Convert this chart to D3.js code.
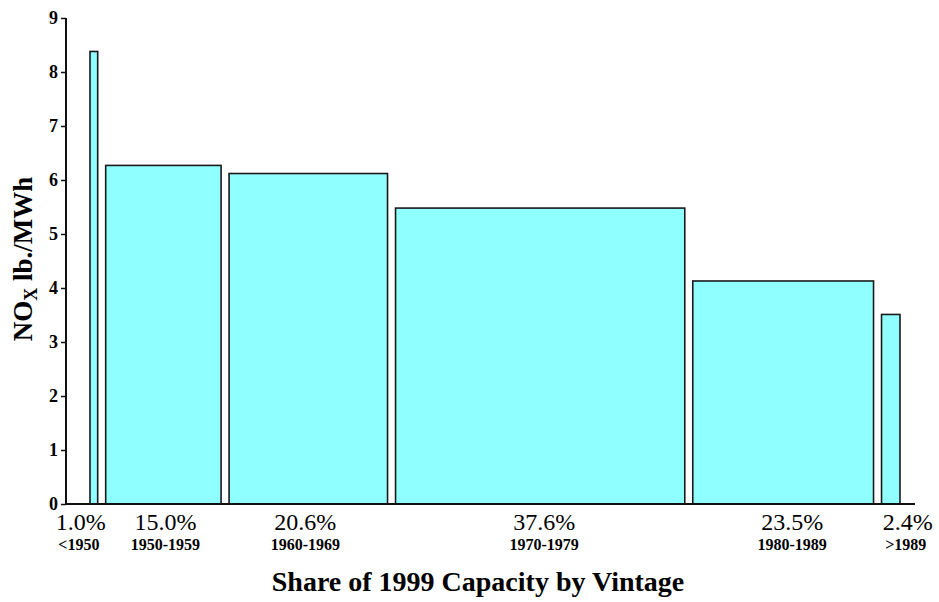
<!DOCTYPE html>
<html><head><meta charset="utf-8">
<script src="https://cdn.jsdelivr.net/npm/d3@7"></script>
<style>body{margin:0;background:#fff}svg{display:block}</style>
</head><body><svg id="c" width="939" height="602"></svg>
<script>
const vintages = ["<1950","1950-1959","1960-1969","1970-1979","1980-1989",">1989"];
const shareLabels = ["1.0%","15.0%","20.6%","37.6%","23.5%","2.4%"];
const shares = [1.0,15.0,20.6,37.6,23.5,2.4];
const noxValues = [8.38,6.27,6.12,5.48,4.13,3.51];
const yTicks = [0,1,2,3,4,5,6,7,8,9];

const FONT = "Liberation Serif";
const svg = d3.select("#c");
const gap = 8;
const total = d3.sum(shares);
const x = d3.scaleLinear().domain([0,total]).range([90, 900 - gap*(shares.length-1)]);
const y = d3.scaleLinear().domain([0,9]).range([504,18]);
const cum = shares.map((s,i)=>d3.sum(shares.slice(0,i)));

// bars
svg.selectAll("rect.bar").data(shares).enter().append("rect")
  .attr("x",(d,i)=>x(cum[i])+i*gap)
  .attr("width",(d,i)=>x(cum[i]+d)-x(cum[i]))
  .attr("y",(d,i)=>y(noxValues[i]))
  .attr("height",(d,i)=>y(0)-y(noxValues[i]))
  .attr("fill","#90ffff").attr("stroke","#1a1a1a").attr("stroke-width",1.6);

// y axis
const ya = d3.axisLeft(y).tickValues(yTicks).tickSize(5).tickPadding(3).tickFormat(d3.format("d"));
const yg = svg.append("g").attr("transform","translate(66,0)").call(ya);
yg.attr("font-family",FONT);
yg.select(".domain").attr("stroke","#111").attr("stroke-width",2).attr("d","M0,18V504");
yg.selectAll(".tick line").attr("stroke","#111").attr("stroke-width",1.5);
yg.selectAll(".tick text").attr("font-size",18).attr("font-weight","bold").attr("fill","#000")
  .attr("font-family",FONT).attr("dy","0.33em");

// x baseline
svg.append("line").attr("x1",66).attr("x2",915).attr("y1",y(0)).attr("y2",y(0))
  .attr("stroke","#111").attr("stroke-width",2);

// category labels
const nudge = [-13, 2, -3, 4, 9, 17];
const centers = shares.map((d,i)=>x(cum[i]+d/2)+i*gap + nudge[i]);
svg.selectAll("text.pct").data(shareLabels).enter().append("text")
  .attr("x",(d,i)=>centers[i]).attr("y",530).attr("text-anchor","middle")
  .attr("font-family",FONT).attr("font-size",24).attr("fill","#000").text(d=>d);
svg.selectAll("text.yr").data(vintages).enter().append("text")
  .attr("x",(d,i)=>centers[i]+(i==5?-2:(i==0?-2:0))).attr("y",550).attr("text-anchor","middle")
  .attr("font-family",FONT).attr("font-size",16).attr("font-weight","bold").attr("fill","#000").text(d=>d);

// axis titles
svg.append("text").attr("x",478).attr("y",591).attr("text-anchor","middle")
  .attr("font-family",FONT).attr("font-size",28).attr("font-weight","bold").text("Share of 1999 Capacity by Vintage");
const yt = svg.append("text").attr("transform","translate(32,259) rotate(-90)").attr("text-anchor","middle")
  .attr("font-family",FONT).attr("font-size",27).attr("font-weight","bold");
yt.append("tspan").text("NO");
yt.append("tspan").attr("font-size",18).attr("dy",5).text("X");
yt.append("tspan").attr("dy",-5).text(" lb./MWh");
</script></body></html>
